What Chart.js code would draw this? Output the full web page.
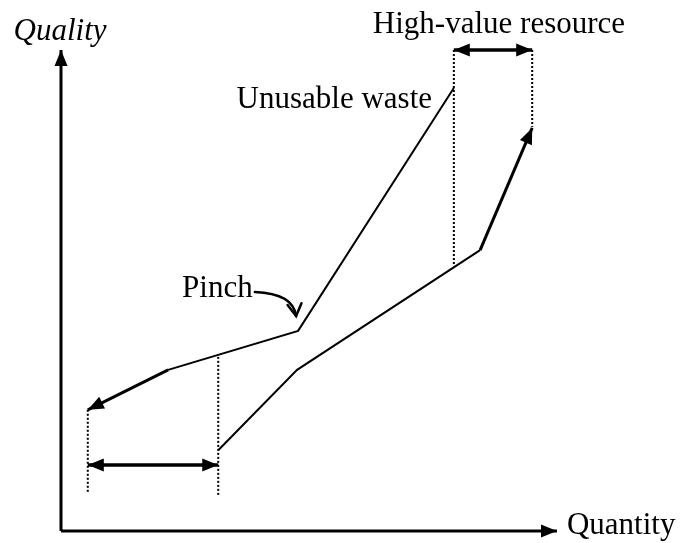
<!DOCTYPE html>
<html>
<head>
<meta charset="utf-8">
<script src="https://cdn.jsdelivr.net/npm/chart.js@4"></script>
<style>
  html, body { margin: 0; padding: 0; background: #fff; }
  #wrap { width: 680px; height: 543px; position: relative; }
</style>
</head>
<body>
<div id="wrap"><canvas id="pinchChart"></canvas></div>
<script>
// Upper curve (waste), drawn from high quality down to the arrow tip
const wasteX = [79.2, 47.8, 21.6, 5.4]
const wasteY = [92.1, 41.6, 33.5, 25.2]

// Lower curve (resource), from the start up to the arrow tip
const resourceX = [31.7, 47.6, 84.5, 95.0]
const resourceY = [16.8, 33.5, 58.4, 83.8]

// Dotted guide lines
const guideX = [79.2, 95.0, 5.4, 31.7]
const guideTop = [100, 100, 25.2, 36.2]
const guideBottom = [55.3, 84.0, 7.9, 7.1]

// Double-headed span arrows
const spanY = [100, 13.7]
const spanFrom = [79.2, 5.4]
const spanTo = [95.0, 31.7]

// Pinch pointer (start, control, end)
const pinchX = [39.1, 46.8, 47.4]
const pinchY = [49.7, 49.4, 44.7]

// Text labels
const labelText = ["Quality", "High-value resource", "Unusable waste", "Pinch", "Quantity"]
const labelX = [-0.2, 88.3, 74.8, 24.4, 102.0]
const labelY = [102.1, 103.5, 87.9, 48.6, -0.6]

const pts = (xs, ys) => xs.map((x, i) => ({ x: x, y: ys[i] }))

const line = (data, width, arrow, dash) => ({
  data: data,
  showLine: true,
  borderColor: "#000",
  backgroundColor: "#000",
  borderWidth: width,
  borderDash: dash || [],
  pointRadius: 0,
  pointHoverRadius: 0,
  tension: 0,
  clip: false,
  arrow: arrow || null,
})

const datasets = []
// axes
datasets.push(line([{ x: 0, y: 0 }, { x: 0, y: 100 }], 3, "end"))
datasets.push(line([{ x: 0, y: 0 }, { x: 100, y: 0 }], 3, "end"))
// waste curve: thin part then thick arrow segment
datasets.push(line(pts(wasteX.slice(0, 3), wasteY.slice(0, 3)), 2))
datasets.push(line(pts(wasteX.slice(2), wasteY.slice(2)), 3, "end"))
// resource curve
datasets.push(line(pts(resourceX.slice(0, 3), resourceY.slice(0, 3)), 2))
datasets.push(line(pts(resourceX.slice(2), resourceY.slice(2)), 3, "end"))
// guides
guideX.forEach((x, i) => {
  datasets.push(line([{ x: x, y: guideTop[i] }, { x: x, y: guideBottom[i] }], 2, null, [2, 2]))
})
// spans
spanY.forEach((y, i) => {
  datasets.push(line([{ x: spanFrom[i], y: y }, { x: spanTo[i], y: y }], 3.5, "both"))
})

function head(ctx, fromX, fromY, toX, toY) {
  const ang = Math.atan2(toY - fromY, toX - fromX)
  const len = 16
  const half = 6.5
  ctx.save()
  ctx.translate(toX, toY)
  ctx.rotate(ang)
  ctx.beginPath()
  ctx.moveTo(0, 0)
  ctx.lineTo(-len, -half)
  ctx.lineTo(-len, half)
  ctx.closePath()
  ctx.fillStyle = "#000"
  ctx.fill()
  ctx.restore()
}

const arrowPlugin = {
  id: "arrows",
  afterDatasetsDraw(chart) {
    const ctx = chart.ctx
    chart.data.datasets.forEach((ds, i) => {
      if (!ds.arrow) return
      const p = chart.getDatasetMeta(i).data
      const n = p.length
      head(ctx, p[n - 2].x, p[n - 2].y, p[n - 1].x, p[n - 1].y)
      if (ds.arrow === "both") head(ctx, p[1].x, p[1].y, p[0].x, p[0].y)
    })

    // curved pointer to the pinch
    const xs = chart.scales.x
    const ys = chart.scales.y
    const px = pinchX.map((v) => xs.getPixelForValue(v))
    const py = pinchY.map((v) => ys.getPixelForValue(v))
    ctx.save()
    ctx.strokeStyle = "#000"
    ctx.lineWidth = 2.5
    ctx.lineCap = "round"
    ctx.beginPath()
    ctx.moveTo(px[0], py[0])
    ctx.quadraticCurveTo(px[1], py[1], px[2], py[2])
    ctx.stroke()
    const ang = Math.atan2(py[2] - py[1], px[2] - px[1])
    ctx.translate(px[2], py[2])
    ctx.rotate(ang)
    ctx.beginPath()
    ctx.moveTo(-12, -7)
    ctx.lineTo(0, 0)
    ctx.lineTo(-12, 7)
    ctx.stroke()
    ctx.restore()
  },
}

const labelPlugin = {
  id: "labels",
  afterDraw(chart) {
    const ctx = chart.ctx
    const xs = chart.scales.x
    const ys = chart.scales.y
    const align = ["center", "center", "right", "left", "left"]
    ctx.save()
    ctx.fillStyle = "#000"
    ctx.textBaseline = "alphabetic"
    labelText.forEach((t, i) => {
      ctx.font = (i === 0 ? "italic " : "") + "31px 'Liberation Serif', 'Times New Roman', serif"
      ctx.textAlign = align[i]
      ctx.fillText(t, xs.getPixelForValue(labelX[i]), ys.getPixelForValue(labelY[i]))
    })
    ctx.restore()
  },
}

new Chart(document.getElementById("pinchChart"), {
  type: "scatter",
  data: { datasets: datasets },
  options: {
    responsive: true,
    maintainAspectRatio: false,
    animation: false,
    layout: { padding: { left: 61, right: 123, top: 50, bottom: 12 } },
    scales: {
      x: { type: "linear", min: 0, max: 100, display: false },
      y: { type: "linear", min: 0, max: 100, display: false },
    },
    plugins: {
      legend: { display: false },
      tooltip: { enabled: false },
    },
  },
  plugins: [arrowPlugin, labelPlugin],
})
</script>
</body>
</html>
